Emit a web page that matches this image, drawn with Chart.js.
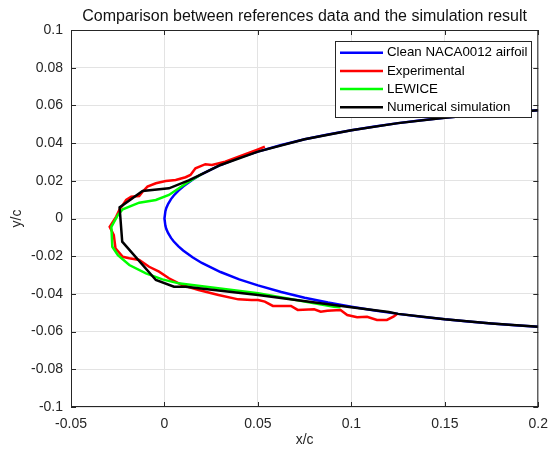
<!DOCTYPE html>
<html>
<head>
<meta charset="utf-8">
<script src="https://cdn.jsdelivr.net/npm/chart.js@4.4.1/dist/chart.umd.min.js"></script>
<style>
  html, body { margin: 0; padding: 0; background: #fff; }
  canvas { display: block; }
</style>
</head>
<body>
<canvas id="chart" width="557" height="454"></canvas>
<script>
const chartTitle = 'Comparison between references data and the simulation result';
const seriesNames = ['Clean NACA0012 airfoil', 'Experimental', 'LEWICE', 'Numerical simulation'];
const seriesColors = ['#0000ff', '#ff0000', '#00ff00', '#000000'];
const xTicks = [-0.05, 0, 0.05, 0.1, 0.15, 0.2];
const yTicks = [-0.1, -0.08, -0.06, -0.04, -0.02, 0, 0.02, 0.04, 0.06, 0.08, 0.1];

// clean airfoil: upper surface from x=0.2 to the nose, then lower surface back to 0.2
const airfoilX = [0.2, 0.1875, 0.175, 0.1625, 0.15, 0.1375, 0.125, 0.1125, 0.1, 0.0875, 0.075, 0.0625, 0.05, 0.04, 0.03, 0.02, 0.015, 0.01, 0.0075, 0.005, 0.0035, 0.002, 0.001, 0.0005, 0,
  0.0005, 0.001, 0.002, 0.0035, 0.005, 0.0075, 0.01, 0.015, 0.02, 0.03, 0.04, 0.05, 0.0625, 0.075, 0.0875, 0.1, 0.1125, 0.125, 0.1375, 0.15, 0.1625, 0.175, 0.1875, 0.2];
const airfoilY = [0.0574, 0.0566, 0.0557, 0.0546, 0.0535, 0.0521, 0.0506, 0.0488, 0.0468, 0.0446, 0.042, 0.039, 0.0355, 0.0323, 0.0284, 0.0236, 0.0206, 0.017, 0.0148, 0.0122, 0.0103, 0.0078, 0.0056, 0.0039, 0,
  -0.0039, -0.0056, -0.0078, -0.0103, -0.0122, -0.0148, -0.017, -0.0206, -0.0236, -0.0284, -0.0323, -0.0355, -0.039, -0.042, -0.0446, -0.0468, -0.0488, -0.0506, -0.0521, -0.0535, -0.0546, -0.0557, -0.0566, -0.0574];

// experimental ice shape
const expX = [0.0537, 0.0501, 0.0325, 0.0254, 0.0219, 0.0166, 0.0139, 0.0113, 0.006, 0.0007, -0.0046, -0.0091, -0.0117, -0.0135, -0.0178, -0.0205, -0.0223, -0.024, -0.0258, -0.0293,
  -0.0271, -0.0262, -0.0223, -0.0188, -0.0135, -0.0082, -0.0029, 0.0024, 0.0095, 0.0183, 0.0289, 0.0395, 0.0466, 0.0501, 0.0537, 0.058, 0.0677, 0.0713, 0.0801, 0.0836,
  0.0872, 0.0942, 0.0978, 0.1031, 0.1084, 0.1137, 0.119, 0.1225, 0.1243];
const expY = [0.0381, 0.0367, 0.0301, 0.0284, 0.0288, 0.0266, 0.0231, 0.0219, 0.0204, 0.0199, 0.0187, 0.0169, 0.0142, 0.0119, 0.0116, 0.0098, 0.0072, 0.0049, 0.001, -0.0044,
  -0.0088, -0.0158, -0.0203, -0.0211, -0.022, -0.0256, -0.0282, -0.0317, -0.0353, -0.0379, -0.0406, -0.0429, -0.0432, -0.0432, -0.0441, -0.0464, -0.0464, -0.0485, -0.0482, -0.0494,
  -0.0489, -0.0485, -0.0512, -0.0524, -0.0521, -0.0538, -0.0538, -0.0521, -0.0508];

// LEWICE ice shape
const lewiceX = [0.02, 0.0121, 0.0024, -0.0046, -0.0135, -0.0223, -0.0249, -0.0284, -0.0279, -0.0249, -0.0188, -0.0099, -0.0011, 0.0077, 0.0095, 0.0501, 0.0907, 0.0942];
const lewiceY = [0.0236, 0.019, 0.0125, 0.0098, 0.0084, 0.0049, 0.0019, -0.0044, -0.015, -0.0194, -0.0247, -0.0291, -0.0323, -0.0344, -0.0346, -0.0397, -0.0468, -0.0471];

// numerical simulation (iced airfoil)
const simX = [0.2, 0.175, 0.15, 0.125, 0.1, 0.075, 0.05, 0.03, 0.02, 0.013, 0.0024, -0.0117, -0.024, -0.0226, -0.0046, 0.0051, 0.0113, 0.0501, 0.0978, 0.12, 0.125, 0.15, 0.175, 0.2];
const simY = [0.0574, 0.0557, 0.0535, 0.0506, 0.0468, 0.042, 0.0355, 0.0284, 0.0236, 0.0202, 0.016, 0.0146, 0.0059, -0.0123, -0.0326, -0.0362, -0.0362, -0.0406, -0.0468, -0.0496, -0.0506, -0.0535, -0.0557, -0.0574];

const fontFamily = '"Liberation Sans", Arial, Helvetica, sans-serif';
const textColor = '#262626';

const toPoints = (xs, ys) => xs.map((x, i) => ({ x: x, y: ys[i] }));
const fmt = v => String(Math.round(v * 1000) / 1000);

const allSeries = [
  toPoints(airfoilX, airfoilY),
  toPoints(expX, expY),
  toPoints(lewiceX, lewiceY),
  toPoints(simX, simY),
];

// frame, inner ticks, title and legend drawn the way matlab does it
const matlabFrame = {
  id: 'matlabFrame',
  afterDraw(chart) {
    const ctx = chart.ctx;
    const a = chart.chartArea;
    const xs = chart.scales.x;
    const ys = chart.scales.y;
    ctx.save();
    ctx.strokeStyle = textColor;
    ctx.lineWidth = 1;
    ctx.beginPath();
    xTicks.forEach(v => {
      const px = Math.round(xs.getPixelForValue(v)) + 0.5;
      ctx.moveTo(px, a.bottom); ctx.lineTo(px, a.bottom - 5);
      ctx.moveTo(px, a.top); ctx.lineTo(px, a.top + 5);
    });
    yTicks.forEach(v => {
      const py = Math.round(ys.getPixelForValue(v)) + 0.5;
      ctx.moveTo(a.left, py); ctx.lineTo(a.left + 5, py);
      ctx.moveTo(a.right, py); ctx.lineTo(a.right - 5, py);
    });
    ctx.stroke();
    ctx.strokeRect(a.left + 0.5, a.top + 0.5, a.right - a.left - 1, a.bottom - a.top - 1);

    ctx.fillStyle = '#111';
    ctx.font = '16px ' + fontFamily;
    ctx.textAlign = 'center';
    ctx.textBaseline = 'middle';
    ctx.fillText(chartTitle, (a.left + a.right) / 2, 16.5);

    // legend box
    const box = { left: 335.5, top: 41.5, right: 531.5, bottom: 117.5 };
    ctx.fillStyle = '#fff';
    ctx.fillRect(box.left, box.top, box.right - box.left, box.bottom - box.top);
    ctx.strokeStyle = textColor;
    ctx.lineWidth = 1;
    ctx.strokeRect(box.left, box.top, box.right - box.left, box.bottom - box.top);
    ctx.font = '13.3px ' + fontFamily;
    ctx.textAlign = 'left';
    seriesNames.forEach((name, i) => {
      const y = 52.7 + i * 18.2;
      ctx.strokeStyle = seriesColors[i];
      ctx.lineWidth = 2.5;
      ctx.beginPath();
      ctx.moveTo(340, y);
      ctx.lineTo(383, y);
      ctx.stroke();
      ctx.fillStyle = '#000';
      ctx.fillText(name, 387, y);
    });
    ctx.restore();
  }
};

const drawOrder = [4, 3, 2, 1];

new Chart(document.getElementById('chart'), {
  type: 'scatter',
  data: {
    datasets: allSeries.map((pts, i) => ({
      label: seriesNames[i],
      data: pts,
      showLine: true,
      borderColor: seriesColors[i],
      backgroundColor: seriesColors[i],
      borderWidth: 2.5,
      pointRadius: 0,
      tension: 0,
      order: drawOrder[i],
    })),
  },
  options: {
    responsive: false,
    animation: false,
    layout: { padding: { top: 30, right: 14, left: 0, bottom: 0 } },
    plugins: {
      legend: { display: false },
      tooltip: { enabled: false },
      title: { display: false },
    },
    scales: {
      x: {
        type: 'linear',
        min: -0.05,
        max: 0.2,
        afterBuildTicks: s => { s.ticks = xTicks.map(v => ({ value: v })); },
        afterFit: s => { s.height = 47; },
        grid: { color: '#e3e3e3', drawTicks: false },
        border: { display: false },
        ticks: {
          padding: 9,
          color: textColor,
          maxRotation: 0,
          autoSkip: false,
          font: { family: fontFamily, size: 14 },
          callback: v => fmt(v),
        },
        title: {
          display: true,
          text: 'x/c',
          color: textColor,
          font: { family: fontFamily, size: 14 },
          padding: { top: 0, bottom: 5 },
        },
      },
      y: {
        type: 'linear',
        min: -0.1,
        max: 0.1,
        afterBuildTicks: s => { s.ticks = yTicks.map(v => ({ value: v })); },
        afterFit: s => { s.width = 71; },
        grid: { color: '#e3e3e3', drawTicks: false },
        border: { display: false },
        ticks: {
          padding: 8,
          color: textColor,
          autoSkip: false,
          font: { family: fontFamily, size: 14 },
          callback: v => fmt(v),
        },
        title: {
          display: true,
          text: 'y/c',
          color: textColor,
          font: { family: fontFamily, size: 14 },
          padding: { top: 9, bottom: 0 },
        },
      },
    },
  },
  plugins: [matlabFrame],
});
</script>
</body>
</html>
